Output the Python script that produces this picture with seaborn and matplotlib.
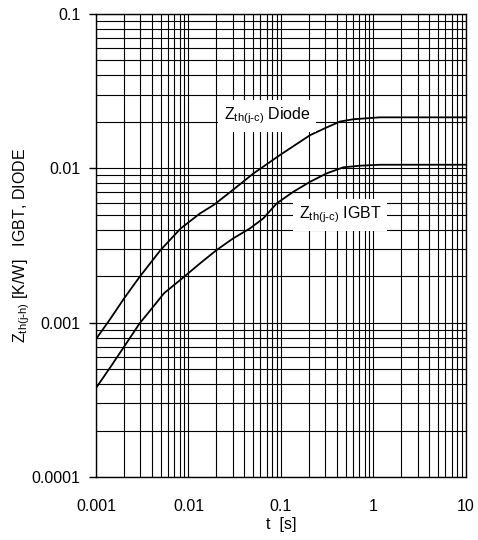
import matplotlib
matplotlib.use("Agg")
import matplotlib.pyplot as plt
import seaborn as sns
import pandas as pd
from matplotlib.ticker import LogLocator, FixedLocator, FixedFormatter, NullFormatter

# ---- data ----
t_diode = [0.001, 0.00144, 0.00201, 0.00296, 0.0050, 0.00824, 0.0133, 0.0188, 0.0281,
           0.0502, 0.0976, 0.206, 0.299, 0.435, 0.605, 1.17, 10.0]
z_diode = [0.000783, 0.001066, 0.001436, 0.00198, 0.00296, 0.00408, 0.00510, 0.00580, 0.00700,
           0.00925, 0.0122, 0.0164, 0.0182, 0.0201, 0.0208, 0.0214, 0.0214]
t_igbt = [0.001, 0.00144, 0.00201, 0.00296, 0.0039, 0.00543, 0.00893, 0.0133, 0.0202, 0.0305,
          0.0462, 0.0644, 0.0899, 0.136, 0.206, 0.312, 0.472, 0.714, 1.17, 10.0]
z_igbt = [0.000377, 0.000518, 0.000698, 0.000989, 0.00121, 0.00155, 0.00198, 0.00242, 0.00296, 0.00352,
          0.00408, 0.00474, 0.00593, 0.00705, 0.00818, 0.00928, 0.01015, 0.0104, 0.01055, 0.01055]

x_ticks = [0.001, 0.01, 0.1, 1, 10]
x_tick_labels = ["0.001", "0.01", "0.1", "1", "10"]
y_ticks = [0.0001, 0.001, 0.01, 0.1]
y_tick_labels = ["0.0001", "0.001", "0.01", "0.1"]

label_diode = r"Z$_{th(j\text{-}c)}$ Diode"
label_igbt = r"Z$_{th(j\text{-}c)}$ IGBT"
xlabel = "t  [s]"
ylabel = r"Z$_{th(j\text{-}h)}$ [K/W]   IGBT, DIODE"

df = pd.concat([
    pd.DataFrame({"t": t_diode, "z": z_diode, "s": "Diode"}),
    pd.DataFrame({"t": t_igbt, "z": z_igbt, "s": "IGBT"}),
], ignore_index=True)

sns.set_theme(style="white")
plt.rcParams["font.family"] = ["Liberation Sans", "DejaVu Sans"]
plt.rcParams["mathtext.default"] = "regular"
plt.rcParams["text.color"] = "black"

fig = plt.figure(figsize=(4.78, 5.40), dpi=100)
ax = fig.add_axes([96/478, 1-477/540, 370/478, 463/540])

ax.set_xscale("log")
ax.set_yscale("log")
sns.lineplot(data=df, x="t", y="z", units="s", estimator=None, sort=False,
             color="black", linewidth=1.3, ax=ax, legend=False)

ax.set_xlim(0.001, 10)
ax.set_ylim(0.0001, 0.1)

ax.xaxis.set_major_locator(FixedLocator(x_ticks))
ax.xaxis.set_major_formatter(FixedFormatter(x_tick_labels))
ax.yaxis.set_major_locator(FixedLocator(y_ticks))
ax.yaxis.set_major_formatter(FixedFormatter(y_tick_labels))
ax.xaxis.set_minor_locator(LogLocator(base=10, subs=range(2, 10), numticks=20))
ax.yaxis.set_minor_locator(LogLocator(base=10, subs=range(2, 10), numticks=20))
ax.xaxis.set_minor_formatter(NullFormatter())
ax.yaxis.set_minor_formatter(NullFormatter())

ax.grid(True, which="both", color="black", linewidth=0.8)
ax.set_axisbelow(True)

ax.tick_params(axis="x", which="both", length=0, pad=16, labelsize=11.5, colors="black")
ax.tick_params(axis="y", which="major", length=5, width=1, direction="out", left=True,
               pad=6, labelsize=11.5, colors="black")
ax.tick_params(axis="y", which="minor", length=0)

for sp in ax.spines.values():
    sp.set_color("black")
    sp.set_linewidth(1.0)

ax.set_xlabel(xlabel, fontsize=11.5, color="black", labelpad=2)
ax.set_ylabel(ylabel, fontsize=11.5, color="black", labelpad=0)

bbox = dict(boxstyle="square,pad=0.35", facecolor="white", edgecolor="none")
ax.text(0.0706, 0.0218, label_diode, fontsize=11.5, ha="center", va="center",
        color="black", bbox=bbox, zorder=5)
ax.text(0.435, 0.00498, label_igbt, fontsize=11.5, ha="center", va="center",
        color="black", bbox=bbox, zorder=5)

fig.savefig("out.png", dpi=100)
